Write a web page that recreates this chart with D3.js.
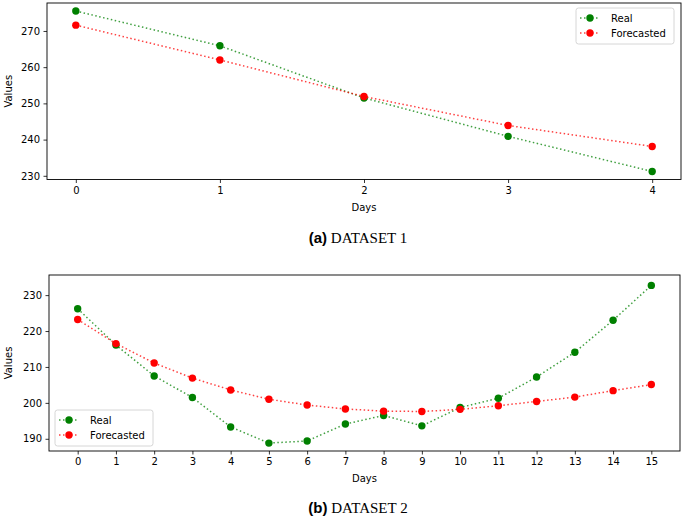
<!DOCTYPE html>
<html><head><meta charset="utf-8">
<script src="https://cdn.jsdelivr.net/npm/d3@7"></script>
<style>
html,body{margin:0;padding:0;background:#fff;}
svg{display:block;}
</style></head>
<body>
<svg id="chart" width="685" height="519"></svg>
<script>
// ---- data ----
const days1 = [0, 1, 2, 3, 4];
const real1 = [275.5, 265.9, 251.5, 240.9, 231.2];
const forecast1 = [271.6, 262.0, 251.9, 243.9, 238.1];
const yTicks1 = [230, 240, 250, 260, 270];

const days2 = [0,1,2,3,4,5,6,7,8,9,10,11,12,13,14,15];
const real2 = [226.2, 216.1, 207.5, 201.5, 193.3, 188.8, 189.4, 194.1, 196.5, 193.6, 198.7, 201.3, 207.2, 214.1, 223.0, 232.7];
const forecast2 = [223.2, 216.5, 211.1, 206.9, 203.6, 201.0, 199.4, 198.3, 197.7, 197.6, 198.2, 199.2, 200.4, 201.6, 203.4, 205.1];
const yTicks2 = [190, 200, 210, 220, 230];

const seriesNames = ["Real", "Forecasted"];
const seriesColors = ["#008000", "#ff0000"];

const svg = d3.select("#chart");
const tickFont = "DejaVu Sans, sans-serif";

function panel(cfg) {
  const g = svg.append("g");
  const x = d3.scaleLinear().domain(cfg.xDomain).range([cfg.left, cfg.right]);
  const y = d3.scaleLinear().domain(cfg.yDomain).range([cfg.bottom, cfg.top]);

  // axes
  const xAxis = d3.axisBottom(x).tickValues(cfg.days).tickFormat(d3.format("d")).tickSizeOuter(0).tickSize(3.5).tickPadding(3.5);
  const yAxis = d3.axisLeft(y).tickValues(cfg.yTicks).tickFormat(d3.format("d")).tickSizeOuter(0).tickSize(3.5).tickPadding(3.5);
  const gx = g.append("g").attr("transform", `translate(0,${cfg.bottom})`).call(xAxis);
  const gy = g.append("g").attr("transform", `translate(${cfg.left},0)`).call(yAxis);
  [gx, gy].forEach(a => {
    a.select(".domain").remove();
    a.selectAll("text").attr("font-family", tickFont).attr("font-size", 10).attr("fill", "#000");
    a.selectAll("line").attr("stroke", "#000").attr("stroke-width", 0.8);
  });

  // lines and markers
  const lists = [cfg.real, cfg.forecast];
  lists.forEach((vals, i) => {
    const line = d3.line().x((d, j) => x(cfg.days[j])).y(d => y(d));
    g.append("path").datum(vals).attr("d", line)
      .attr("fill", "none").attr("stroke", seriesColors[i])
      .attr("stroke-width", 1.5).attr("stroke-dasharray", "1.5,2.5")
      .attr("opacity", 0.75);
    g.selectAll(null).data(vals).enter().append("circle")
      .attr("cx", (d, j) => x(cfg.days[j])).attr("cy", d => y(d))
      .attr("r", 3.7).attr("fill", seriesColors[i]);
  });

  // frame
  g.append("rect").attr("x", cfg.left).attr("y", cfg.top)
    .attr("width", cfg.right - cfg.left).attr("height", cfg.bottom - cfg.top)
    .attr("fill", "none").attr("stroke", "#000").attr("stroke-width", 0.9);

  // axis labels
  g.append("text").attr("x", (cfg.left + cfg.right) / 2).attr("y", cfg.bottom + 31)
    .attr("text-anchor", "middle").attr("font-family", tickFont).attr("font-size", 10)
    .text("Days");
  g.append("text").attr("transform", `translate(12,${(cfg.top + cfg.bottom) / 2}) rotate(-90)`)
    .attr("text-anchor", "middle").attr("font-family", tickFont).attr("font-size", 10)
    .text("Values");

  // legend
  const L = cfg.legend;
  const lg = g.append("g").attr("transform", `translate(${L.x},${L.y})`);
  lg.append("rect").attr("width", L.w).attr("height", L.h).attr("rx", 2.5)
    .attr("fill", "#fff").attr("fill-opacity", 0.8).attr("stroke", "#cccccc").attr("stroke-width", 0.8);
  seriesNames.forEach((name, i) => {
    const yy = 10 + i * 15;
    lg.append("line").attr("x1", 4).attr("x2", 24).attr("y1", yy).attr("y2", yy)
      .attr("stroke", seriesColors[i]).attr("stroke-width", 1.5).attr("stroke-dasharray", "1.5,2.5").attr("opacity", 0.75);
    lg.append("circle").attr("cx", 14).attr("cy", yy).attr("r", 3.7).attr("fill", seriesColors[i]);
    lg.append("text").attr("x", 35).attr("y", yy + 3.6).attr("font-family", tickFont)
      .attr("font-size", 10).text(name);
  });

  // caption
  const cap = svg.append("text").attr("x", 358).attr("y", cfg.captionY).attr("text-anchor", "middle")
    .attr("font-size", 15).attr("fill", "#000");
  cap.append("tspan").attr("font-family", "Liberation Sans, Arial, sans-serif").attr("font-weight", "bold").text(cfg.captionA);
  cap.append("tspan").attr("font-family", "Liberation Serif, Times New Roman, serif").text(" " + cfg.captionB);
}

panel({
  days: days1, real: real1, forecast: forecast1, yTicks: yTicks1,
  xDomain: [-0.2, 4.2], yDomain: [228.98, 277.72],
  left: 47, right: 681, top: 3, bottom: 179.5,
  legend: {x: 576, y: 8, w: 98, h: 36},
  captionY: 243, captionA: "(a)", captionB: "DATASET 1"
});

panel({
  days: days2, real: real2, forecast: forecast2, yTicks: yTicks2,
  xDomain: [-0.75, 15.75], yDomain: [186.6, 235.6],
  left: 49, right: 680, top: 275, bottom: 451,
  legend: {x: 55, y: 410, w: 98, h: 36},
  captionY: 513, captionA: "(b)", captionB: "DATASET 2"
});
</script>
</body></html>
